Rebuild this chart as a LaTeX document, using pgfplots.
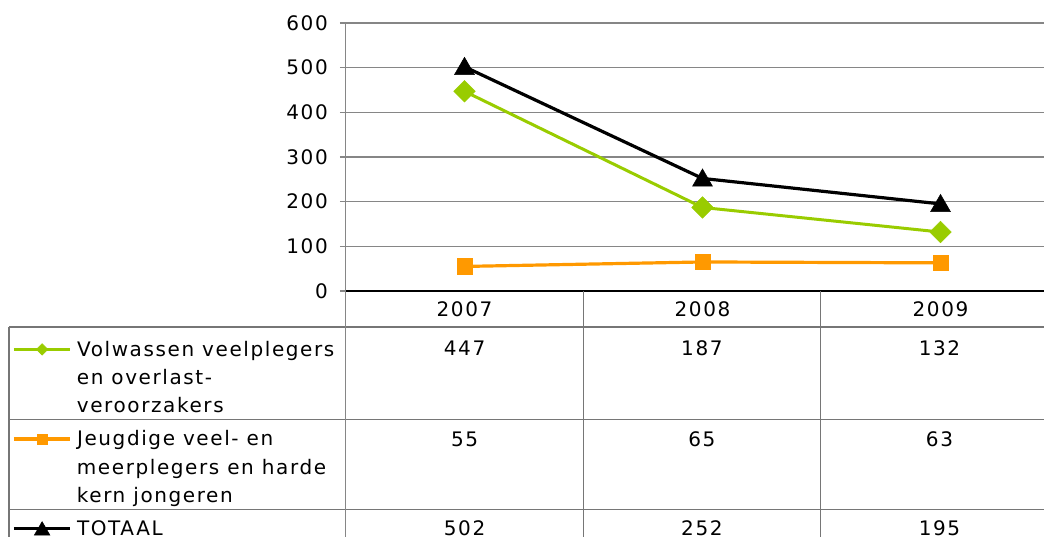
\documentclass[border=0pt]{standalone}
\usepackage{fontspec}
\setmainfont{DejaVu Sans}[LetterSpace=8]
\usepackage{pgfplots}
\usepackage{pgfplotstable}
\pgfplotsset{compat=1.18}
\definecolor{vgreen}{RGB}{153,204,0}
\definecolor{vorange}{RGB}{255,153,0}
\definecolor{gridgray}{RGB}{134,134,134}
\definecolor{tablegray}{RGB}{118,118,118}

\pgfplotsset{
  legA/.style={legend image code/.code={\draw[##1, mark repeat=2, mark phase=2, mark size=5.75pt] plot coordinates {(0pt,0pt) (28.35pt,0pt) (56.7pt,0pt)};}},
  legB/.style={legend image code/.code={\draw[##1, mark repeat=2, mark phase=2, mark size=5.25pt] plot coordinates {(0pt,0pt) (28.35pt,0pt) (56.7pt,0pt)};}},
  legC/.style={legend image code/.code={\draw[##1, mark repeat=2, mark phase=2, mark size=9pt] plot coordinates {(0pt,0pt) (28.35pt,0pt) (56.7pt,0pt)};}},
}

\pgfplotstableread{
x vol jeugd totaal
0 447 55 502
1 187 65 252
2 132 63 195
}\datatable

\begin{document}
\begin{tikzpicture}[font=\fontsize{20}{28}\selectfont]
\begin{axis}[
  at={(345.5pt,245pt)}, anchor=south west,
  scale only axis, width=698.5pt, height=268pt,
  xmin=-0.5, xmax=2.4348, ymin=0, ymax=600,
  axis lines*=left,
  x axis line style={black, line width=2pt},
  y axis line style={gridgray, line width=1.6pt},
  xtick={0,1,2}, xticklabels={2007,2008,2009},
  ytick={0,100,...,600},
  tick align=outside, major tick length=5.5pt,
  xtick style={draw=none},
  ytick style={gridgray, line width=1.3pt},
  ymajorgrids, major grid style={gridgray, line width=1.3pt},
  xticklabel style={anchor=base, yshift=-20.2pt, inner sep=0pt},
  yticklabel style={anchor=east, inner sep=0pt, xshift=-12pt},
  /pgf/number format/assume math mode=true,
  tick label style={font=\fontsize{20}{28}\selectfont},
  legend style={at={(axis description cs:-0.4775,-0.186)}, anchor=north west,
    draw=none, fill=none, inner sep=0pt, row sep=73pt, column sep=5pt,
    nodes={inner sep=0pt}, font=\fontsize{20}{28}\selectfont},
  legend cell align=left,
]
\addplot[vgreen, line width=3pt, mark=diamond*, mark size=10.75pt,
  mark options={solid, xscale=1.3333, fill=vgreen, draw=vgreen, line width=0.5pt},
  legA]
  table[x=x, y=vol] {\datatable};
\addlegendentry{Volwassen veelplegers}
\addplot[vorange, line width=3.2pt, mark=square*, mark size=7.75pt,
  mark options={solid, fill=vorange, draw=vorange, line width=0.5pt},
  legB]
  table[x=x, y=jeugd] {\datatable};
\addlegendentry{Jeugdige veel- en}
\addplot[black, line width=3.2pt, mark=triangle*, mark size=11.5pt,
  mark options={solid, fill=black, draw=black, line width=0.5pt, yshift=-2pt},
  legC]
  table[x=x, y=totaal] {\datatable};
\addlegendentry{TOTAAL\vphantom{g}}
\end{axis}
% data table grid
\draw[tablegray, line width=1.3pt] (9pt,209pt) -- (1044pt,209pt);
\draw[tablegray, line width=1.3pt] (9pt,116.7pt) -- (1044pt,116.7pt);
\draw[tablegray, line width=1.3pt] (9pt,26.7pt) -- (1044pt,26.7pt);
\draw[tablegray, line width=1.3pt] (9pt,209pt) -- (9pt,-5pt);
\draw[gridgray, line width=1.6pt] (345.5pt,245pt) -- (345.5pt,-5pt);
\draw[tablegray, line width=1.3pt] (583.7pt,245pt) -- (583.7pt,-5pt);
\draw[tablegray, line width=1.3pt] (820.3pt,245pt) -- (820.3pt,-5pt);
% extra legend lines
\node[anchor=base west, inner sep=0pt] at (76.7pt,151.7pt) {en overlast-};
\node[anchor=base west, inner sep=0pt] at (76.7pt,123.3pt) {veroorzakers};
\node[anchor=base west, inner sep=0pt] at (76.7pt,61.3pt) {meerplegers en harde};
\node[anchor=base west, inner sep=0pt] at (76.7pt,33.3pt) {kern jongeren};
% values
\node[anchor=base, inner sep=0pt] at (464.6pt,181pt) {447};
\node[anchor=base, inner sep=0pt] at (701.9pt,181pt) {187};
\node[anchor=base, inner sep=0pt] at (939.5pt,181pt) {132};
\node[anchor=base, inner sep=0pt] at (464.6pt,89.7pt) {55};
\node[anchor=base, inner sep=0pt] at (701.9pt,89.7pt) {65};
\node[anchor=base, inner sep=0pt] at (939.5pt,89.7pt) {63};
\node[anchor=base, inner sep=0pt] at (464.6pt,1pt) {502};
\node[anchor=base, inner sep=0pt] at (701.9pt,1pt) {252};
\node[anchor=base, inner sep=0pt] at (939.5pt,1pt) {195};
\pgfresetboundingbox
\useasboundingbox (0pt,0pt) rectangle (1044pt,536pt);
\end{tikzpicture}
\end{document}
